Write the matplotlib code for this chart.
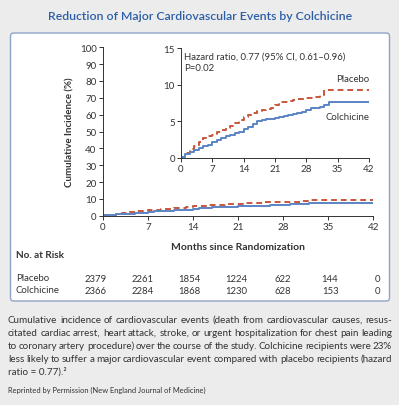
import matplotlib
matplotlib.use('Agg')
import matplotlib.pyplot as plt
from matplotlib.patches import FancyBboxPatch

plt.rcParams['font.family'] = ['Lato', 'DejaVu Sans']

# months and cumulative incidence (%)
months = [0, 1, 2, 3, 4, 5, 6, 7, 8, 9, 10, 11, 12, 13, 14, 15, 16, 17,
          18, 19, 20, 21, 22, 23, 24, 25, 26, 27, 28, 29, 30, 31, 32, 33, 42]
placebo = [0.2, 0.7, 1.2, 1.7, 2.2, 2.7, 3.0, 3.2, 3.5, 3.8, 4.1, 4.4, 4.8,
           5.2, 5.6, 5.9, 6.2, 6.4, 6.6, 6.7, 6.8, 7.2, 7.6, 7.7, 7.8, 7.9,
           8.0, 8.1, 8.2, 8.2, 8.3, 8.6, 9.3, 9.3, 9.3]
colchicine = [0.2, 0.5, 0.8, 1.1, 1.3, 1.6, 1.8, 2.2, 2.5, 2.8, 3.0, 3.2, 3.4,
              3.6, 4.0, 4.3, 4.6, 5.0, 5.2, 5.3, 5.4, 5.5, 5.6, 5.7, 5.9, 6.0,
              6.1, 6.3, 6.6, 6.9, 6.9, 7.0, 7.3, 7.6, 7.6]

risk_months = [0, 7, 14, 21, 28, 35, 42]
risk_placebo = [2379, 2261, 1854, 1224, 622, 144, 0]
risk_colchicine = [2366, 2284, 1868, 1230, 628, 153, 0]

caption = ["Cumulative incidence of cardiovascular events (death from cardiovascular causes, resus-",
           "citated cardiac arrest, heart attack, stroke, or urgent hospitalization for chest pain leading",
           "to coronary artery procedure) over the course of the study. Colchicine recipients were 23%",
           "less likely to suffer a major cardiovascular event compared with placebo recipients (hazard",
           "ratio = 0.77).\u00b2"]

red = '#c8553a'
blue = '#5b84c4'
dark = '#333333'

W, H = 399, 406
fig = plt.figure(figsize=(W / 100, H / 100), dpi=100, facecolor='#ececec')


def px(x0, y0, x1, y1):
    return [x0 / W, 1 - y1 / H, (x1 - x0) / W, (y1 - y0) / H]


box = FancyBboxPatch((10.5 / W, 1 - 302 / H), 379 / W, 268 / H,
                     boxstyle='round,pad=0,rounding_size=0.008',
                     transform=fig.transFigure, facecolor='white',
                     edgecolor='#8fa3c8', linewidth=1.0, zorder=-5)
fig.patches.append(box)

fig.text(200 / W, 1 - 16 / H, 'Reduction of Major Cardiovascular Events by Colchicine',
         ha='center', va='center', fontsize=8.8, fontweight='semibold', color='#2a5ea8')


def style(ax, size):
    for s in ['top', 'right']:
        ax.spines[s].set_visible(False)
    for s in ['left', 'bottom']:
        ax.spines[s].set_linewidth(0.7)
        ax.spines[s].set_color(dark)
    ax.tick_params(labelsize=size, length=3, width=0.7, pad=1.5, colors=dark)
    ax.patch.set_alpha(0)


ax = fig.add_axes(px(102.7, 48.3, 373.3, 216.7))
ax.step(months, placebo, where='post', color=red, lw=1.4, ls=(0, (3, 2)))
ax.step(months, colchicine, where='post', color=blue, lw=1.4)
ax.set_xlim(0, 42)
ax.set_ylim(0, 100)
ax.set_xticks(risk_months)
ax.set_yticks(range(0, 101, 10))
style(ax, 7)
ax.set_ylabel('Cumulative Incidence (%)', fontsize=7, fontweight='bold', color=dark, labelpad=4)
ax.set_xlabel('Months since Randomization', fontsize=7.5, fontweight='bold', color=dark, labelpad=8)

ins = fig.add_axes(px(181, 49.3, 369, 159))
ins.step(months, placebo, where='post', color=red, lw=1.4, ls=(0, (3, 2)))
ins.step(months, colchicine, where='post', color=blue, lw=1.4)
ins.set_xlim(0, 42)
ins.set_ylim(0, 15)
ins.set_xticks(risk_months)
ins.set_yticks([0, 5, 10, 15])
style(ins, 7)
ins.text(0.6, 14.5, 'Hazard ratio, 0.77 (95% CI, 0.61\u20130.96)\nP=0.02', fontsize=6.9,
         color=dark, va='top', linespacing=1.3)
ins.text(42, 10.2, 'Placebo', ha='right', va='bottom', fontsize=6.9, color=dark)
ins.text(42, 5.7, 'Colchicine', ha='right', va='center', fontsize=6.9, color=dark)

# number at risk table
fig.text(16 / W, 1 - 256 / H, 'No. at Risk', fontsize=7.2, fontweight='bold', color=dark, va='center')
fig.text(16 / W, 1 - 279 / H, 'Placebo', fontsize=6.9, color=dark, va='center')
fig.text(16 / W, 1 - 291 / H, 'Colchicine', fontsize=6.9, color=dark, va='center')
tr = ax.get_xaxis_transform()
for m, p, c in zip(risk_months, risk_placebo, risk_colchicine):
    xx = m * 1.04 - 1.1
    ax.text(xx, -(279 - 216.7) / 168.4, str(p), transform=tr, ha='center', va='center',
            fontsize=6.9, color=dark)
    ax.text(xx, -(291 - 216.7) / 168.4, str(c), transform=tr, ha='center', va='center',
            fontsize=6.9, color=dark)

# caption, justified between x=8 and x=392 px
renderer = fig.canvas.get_renderer()
left, right = 8, 392
for i, line in enumerate(caption):
    y = 1 - (323 + i * 13) / H
    words = line.split(' ')
    if i == len(caption) - 1:
        fig.text(left / W, y, line, fontsize=7.1, color=dark, va='baseline')
        continue
    arts = [fig.text(0, y, w, fontsize=7.1, color=dark, va='baseline') for w in words]
    widths = [a.get_window_extent(renderer).width for a in arts]
    gap = (right - left - sum(widths)) / (len(words) - 1)
    x = left
    for a, wd in zip(arts, widths):
        a.set_x(x / W)
        x += wd + gap

fig.text(8 / W, 1 - 390 / H, 'Reprinted by Permission (New England Journal of Medicine)',
         fontsize=5.4, color=dark, va='center')

fig.savefig('out.png', dpi=100, facecolor=fig.get_facecolor())
